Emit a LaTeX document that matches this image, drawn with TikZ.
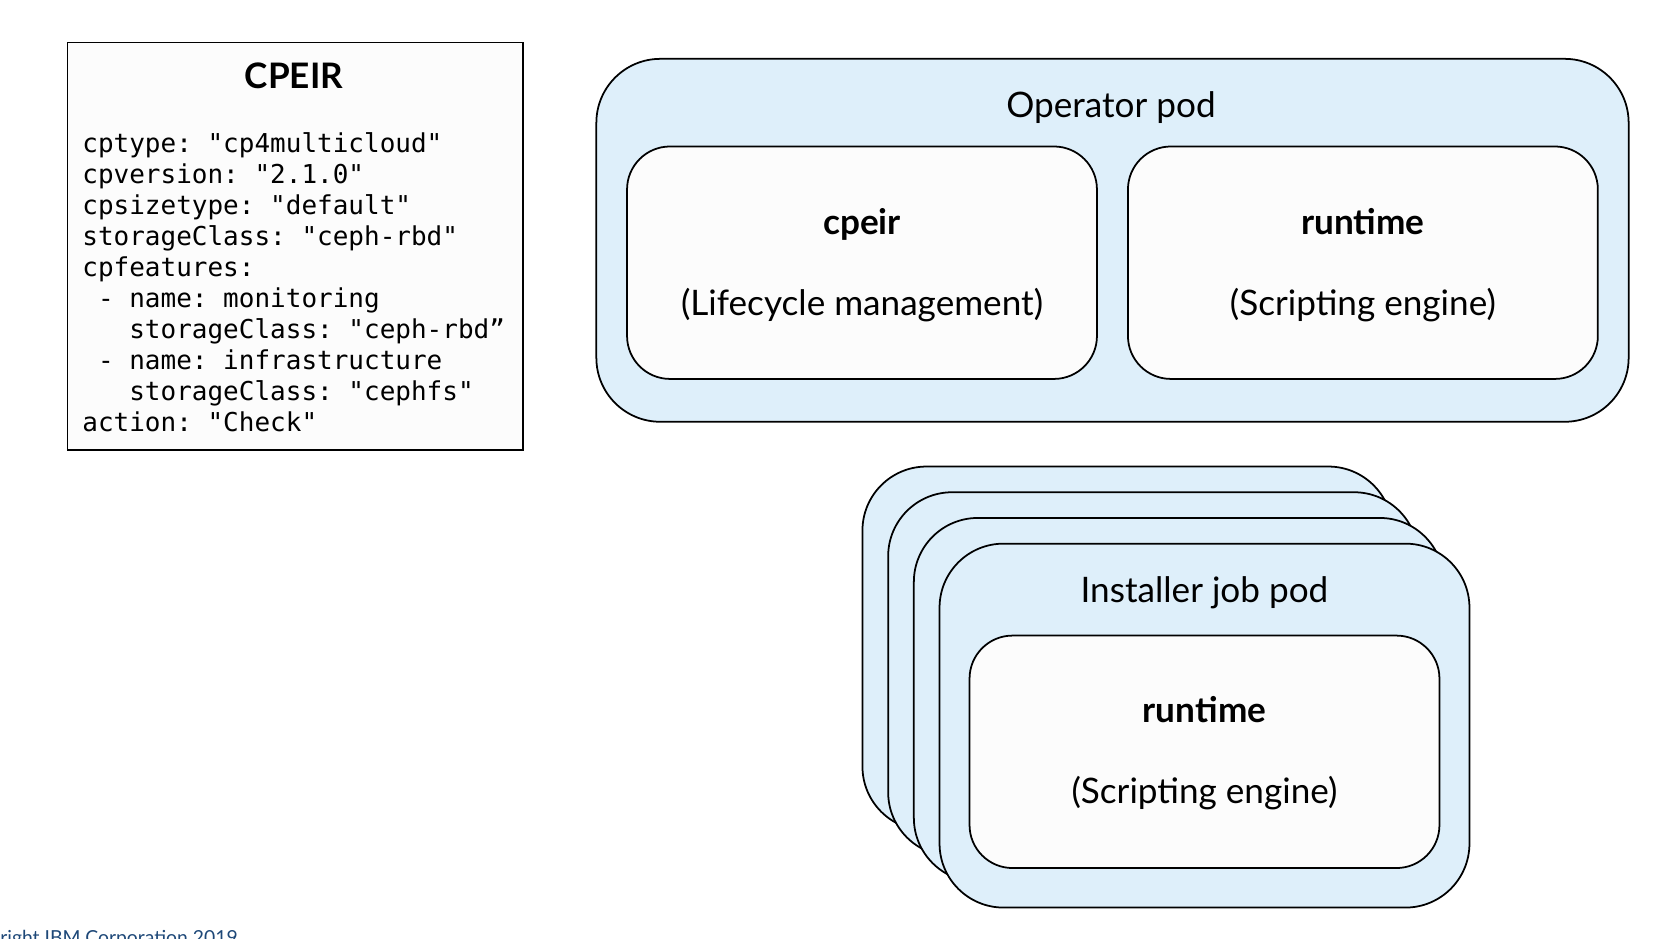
\documentclass[tikz,border=0pt]{standalone}
\usepackage{fontspec}
\setmainfont{Lato}
\setmonofont{DejaVu Sans Mono}
\definecolor{podblue}{RGB}{222,239,250}
\definecolor{boxwhite}{RGB}{252,252,252}
\definecolor{ibmblue}{RGB}{30,72,120}

\begin{document}
\begin{tikzpicture}[x=0.02cm, y=-0.02cm,
    podbox/.style={rectangle, draw=black, line width=1pt, fill=podblue, rounded corners=1.28cm},
    opbox/.style={podbox, minimum width=20.65cm, minimum height=7.26cm},
    jobbox/.style={podbox, minimum width=10.6cm, minimum height=7.28cm},
    compbox/.style={rectangle, draw=black, line width=1pt, fill=boxwhite, rounded corners=0.86cm, minimum width=9.4cm, minimum height=4.65cm},
    podtext/.style={anchor=base, inner sep=0pt, font=\fontsize{20}{24}\selectfont},
    boldtext/.style={podtext, font=\fontsize{20}{24}\selectfont\bfseries}]

    \useasboundingbox (0,0) rectangle (1678,938);
    \clip (0,0) rectangle (1678,938);

    % CPEIR resource
    \node (cr)[rectangle, draw=black, line width=1pt, fill=boxwhite, minimum width=9.12cm, minimum height=8.16cm] at (295.4,246.4) {};
    \node (crtitle)[boldtext] at (294,88.3) {CPEIR};
    \node (crspec)[anchor=north west, inner sep=0pt, align=left, font=\ttfamily\fontsize{14.8}{17.6}\selectfont\frenchspacing] at (82,132.5) {%
        cptype: "cp4multicloud"\\
        cpversion: "2.1.0"\\
        cpsizetype: "default"\\
        storageClass: "ceph-rbd"\\
        cpfeatures:\\
        \phantom{x}- name: monitoring\\
        \phantom{xxx}storageClass: "ceph-rbd”\\
        \phantom{x}- name: infrastructure\\
        \phantom{xxx}storageClass: "cephfs"\\
        action: "Check"};

    % Operator pod
    \node (op)[opbox] at (1112.5,240.3) {};
    \node (optext)[podtext] at (1111,117.7) {Operator pod};
    \node (cpeir)[compbox] at (862,262.7) {};
    \node (cpeirname)[boldtext] at (862,234.4) {cpeir};
    \node (cpeirrole)[podtext] at (862,315.7) {(Lifecycle management)};
    \node (rt)[compbox] at (1362.9,262.7) {};
    \node (rtname)[boldtext] at (1362.9,234.4) {runtime};
    \node (rtrole)[podtext] at (1362.9,315.7) {(Scripting engine)};

    % Installer job pods
    \foreach \k in {3,2,1}
        \node (job\k)[jobbox] at ({1204.5-25.7*\k},{725.6-25.7*\k}) {};
    \node (job)[jobbox] at (1204.5,725.6) {};
    \node (jobtext)[podtext] at (1204.5,602.5) {Installer job pod};
    \node (jobrt)[compbox] at (1204.5,751.8) {};
    \node (jobrtname)[boldtext] at (1204.5,722.4) {runtime};
    \node (jobrtrole)[podtext] at (1204.5,803.7) {(Scripting engine)};

    \node (copy)[anchor=base west, inner sep=0pt, text=ibmblue, font=\fontsize{11}{13}\selectfont] at (0,944) {right IBM Corporation 2019};
\end{tikzpicture}
\end{document}
